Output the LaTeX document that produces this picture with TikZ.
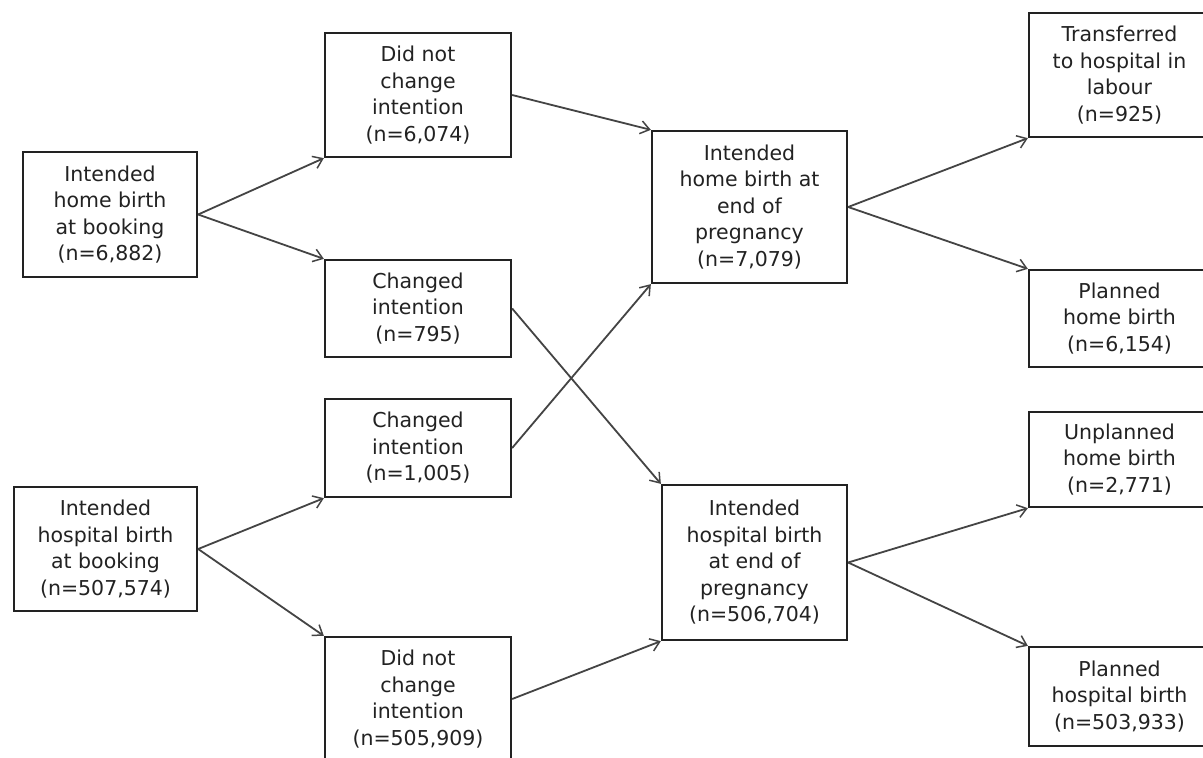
\documentclass[tikz,border=0pt]{standalone}
\usepackage{fontspec}
\setmainfont{DejaVu Sans}
\usetikzlibrary{arrows.meta}
\definecolor{boxline}{HTML}{222222}
\definecolor{arrline}{HTML}{444444}
\definecolor{txt}{HTML}{222222}
\begin{document}
\begin{tikzpicture}[x=1pt,y=-1pt,
  fbox/.style={draw=boxline,line width=2.3pt,fill=white,inner sep=0pt,align=center,
    text=txt,font=\fontsize{20.5}{26.5}\selectfont},
  flow/.style={draw=arrline,line width=1.8pt,-{Straight Barb[length=9pt,width=13pt,line width=1.5pt]}}]
\useasboundingbox (0,0) rectangle (1203,758);
\clip (0,0) rectangle (1203,758);
\fill[white] (0,0) rectangle (1203,758);
% left column
\node[fbox,minimum width=174pt,minimum height=125pt] (b1) at (110,214.5) {Intended\\home birth\\at booking\\(n=6,882)};
\node[fbox,minimum width=183pt,minimum height=124pt] (b2) at (105.5,549) {Intended\\hospital birth\\at booking\\(n=507,574)};
% second column
\node[fbox,minimum width=186pt,minimum height=124pt] (b3) at (418,95) {Did not\\change\\intention\\(n=6,074)};
\node[fbox,minimum width=186pt,minimum height=97pt] (b4) at (418,308.5) {Changed\\intention\\(n=795)};
\node[fbox,minimum width=186pt,minimum height=98pt] (b5) at (418,448) {Changed\\intention\\(n=1,005)};
\node[fbox,minimum width=186pt,minimum height=124pt] (b6) at (418,699) {Did not\\change\\intention\\(n=505,909)};
% third column
\node[fbox,minimum width=195pt,minimum height=152pt] (b7) at (749.5,207) {Intended\\home birth at\\end of\\pregnancy\\(n=7,079)};
\node[fbox,minimum width=185pt,minimum height=155pt] (b8) at (754.5,562.5) {Intended\\hospital birth\\at end of\\pregnancy\\(n=506,704)};
% right column
\node[fbox,minimum width=181pt,minimum height=124pt] (b9) at (1119.5,75) {Transferred\\to hospital in\\labour\\(n=925)};
\node[fbox,minimum width=181pt,minimum height=97pt] (b10) at (1119.5,318.5) {Planned\\home birth\\(n=6,154)};
\node[fbox,minimum width=181pt,minimum height=95pt] (b11) at (1119.5,459.5) {Unplanned\\home birth\\(n=2,771)};
\node[fbox,minimum width=181pt,minimum height=99pt] (b12) at (1119.5,696.5) {Planned\\hospital birth\\(n=503,933)};
% connectors
\draw[flow] (b1.east) -- (b3.south west);
\draw[flow] (b1.east) -- (b4.north west);
\draw[flow] (b2.east) -- (b5.south west);
\draw[flow] (b2.east) -- (b6.north west);
\draw[flow] (b3.east) -- (b7.north west);
\draw[flow] (b4.east) -- (b8.north west);
\draw[flow] (b5.east) -- (b7.south west);
\draw[flow] (b6.east) -- (b8.south west);
\draw[flow] (b7.east) -- (b9.south west);
\draw[flow] (b7.east) -- (b10.north west);
\draw[flow] (b8.east) -- (b11.south west);
\draw[flow] (b8.east) -- (b12.north west);
\end{tikzpicture}
\end{document}
